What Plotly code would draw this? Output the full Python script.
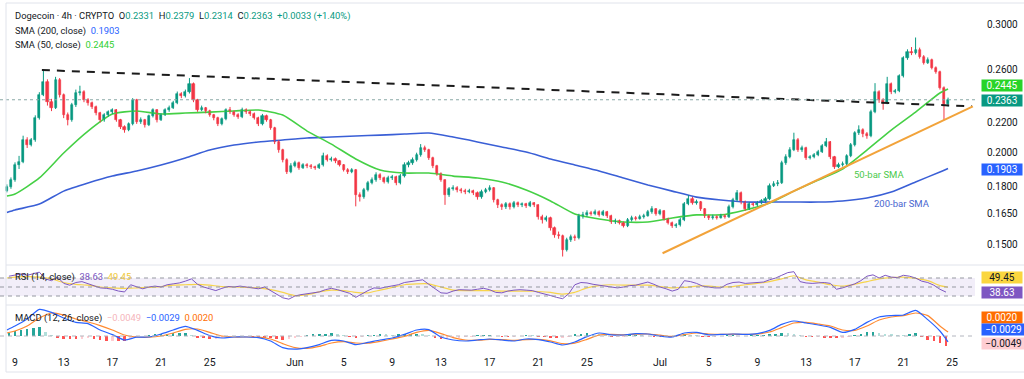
import numpy as np
import pandas as pd
import plotly.graph_objects as go

# ---------------- data ----------------
bar_start = "2025-05-08 08:00"          # 8h candles
first_open = 0.1775
closes = [
    .1795, .1835, .1924, .1942, .2082, .2049, .2082, .2231, .2398, .2499,
    .2346, .2303, .2515, .2398, .2252, .2217, .2324, .2414, .2421, .2361,
    .2339, .2310, .2266, .2217, .2252, .2273, .2288, .2217, .2169, .2148,
    .2189, .2361, .2203, .2217, .2182, .2245, .2288, .2217, .2252, .2288,
    .2303, .2339, .2406, .2391, .2421, .2483, .2361, .2288, .2303, .2281,
    .2252, .2231, .2189, .2224, .2288, .2273, .2252, .2238, .2288, .2273,
    .2259, .2231, .2189, .2245, .2217, .2162, .2069, .2017, .1955, .1882,
    .1918, .1936, .1906, .1924, .1918, .1912, .1906, .1924, .1979, .1955,
    .1961, .1948, .1924, .1894, .1882, .1894, .1750, .1739, .1778, .1818,
    .1835, .1864, .1847, .1824, .1847, .1853, .1818, .1859, .1924, .1936,
    .1955, .1985, .2030, .2017, .1967, .1918, .1870, .1835, .1750, .1784,
    .1790, .1778, .1773, .1767, .1773, .1762, .1739, .1767, .1778, .1790,
    .1723, .1696, .1685, .1701, .1685, .1707, .1696, .1700, .1692, .1707,
    .1696, .1633, .1618, .1628, .1577, .1543, .1538, .1472, .1519, .1533,
    .1528, .1638, .1644, .1654, .1650, .1659, .1644, .1659, .1638, .1608,
    .1612, .1603, .1588, .1618, .1628, .1625, .1633, .1640, .1659, .1675,
    .1649, .1664, .1623, .1603, .1588, .1592, .1618, .1701, .1728, .1707,
    .1712, .1675, .1638, .1628, .1633, .1630, .1638, .1633, .1685, .1723,
    .1762, .1712, .1675, .1701, .1697, .1707, .1718, .1728, .1801, .1812,
    .1818, .1936, .1973, .2017, .2082, .2017, .2030, .1967, .1973, .1985,
    .2004, .2043, .2069, .1973, .1912, .1924, .1930, .1979, .2049, .2128,
    .2148, .2121, .2108, .2273, .2421, .2361, .2339, .2483, .2421, .2429,
    .2546, .2695, .2747, .2738, .2764, .2704, .2653, .2678, .2612, .2579,
    .2452, .2331, .2363,
]
highs = [
    .1810, .1850, .1940, .1980, .2110, .2100, .2095, .2250, .2420, .2600,
    .2520, .2370, .2540, .2530, .2410, .2270, .2340, .2440, .2470, .2435,
    .2375, .2350, .2320, .2275, .2265, .2285, .2300, .2295, .2225, .2180,
    .2200, .2375, .2370, .2235, .2225, .2255, .2300, .2295, .2265, .2300,
    .2320, .2355, .2425, .2420, .2440, .2530, .2495, .2370, .2320, .2310,
    .2290, .2260, .2240, .2235, .2300, .2310, .2285, .2265, .2305, .2300,
    .2285, .2270, .2240, .2260, .2255, .2225, .2170, .2080, .2025, .1965,
    .1935, .1950, .1945, .1935, .1935, .1930, .1920, .1935, .2000, .1990,
    .1975, .1970, .1955, .1930, .1905, .1905, .1900, .1765, .1790, .1830,
    .1850, .1880, .1875, .1855, .1860, .1865, .1860, .1870, .1940, .1950,
    .1970, .2000, .2055, .2045, .2025, .1975, .1925, .1880, .1840, .1795,
    .1805, .1800, .1790, .1785, .1785, .1780, .1770, .1780, .1790, .1805,
    .1795, .1730, .1705, .1712, .1710, .1718, .1715, .1710, .1708, .1718,
    .1712, .1700, .1645, .1640, .1635, .1585, .1560, .1545, .1530, .1545,
    .1545, .1650, .1660, .1668, .1665, .1672, .1668, .1670, .1665, .1645,
    .1625, .1620, .1610, .1628, .1640, .1638, .1645, .1650, .1670, .1690,
    .1680, .1675, .1670, .1630, .1610, .1602, .1630, .1712, .1750, .1740,
    .1725, .1718, .1680, .1645, .1645, .1642, .1650, .1648, .1698, .1735,
    .1778, .1770, .1720, .1712, .1710, .1718, .1728, .1740, .1815, .1828,
    .1835, .1950, .1990, .2035, .2130, .2095, .2045, .2038, .1985, .1998,
    .2018, .2055, .2095, .2075, .1980, .1938, .1945, .1990, .2062, .2140,
    .2180, .2160, .2135, .2290, .2490, .2435, .2375, .2540, .2495, .2445,
    .2560, .2710, .2770, .2790, .2875, .2785, .2720, .2700, .2690, .2625,
    .2590, .2465, .2379,
]
lows = [
    .1765, .1785, .1825, .1900, .1935, .2030, .2040, .2070, .2220, .2390,
    .2320, .2280, .2295, .2380, .2230, .2180, .2205, .2310, .2395, .2345,
    .2320, .2295, .2250, .2200, .2205, .2240, .2260, .2205, .2155, .2130,
    .2140, .2180, .2190, .2190, .2165, .2175, .2235, .2200, .2210, .2245,
    .2275, .2295, .2330, .2375, .2380, .2410, .2345, .2275, .2280, .2265,
    .2240, .2215, .2175, .2180, .2215, .2260, .2240, .2225, .2230, .2260,
    .2245, .2220, .2175, .2180, .2205, .2150, .2055, .2000, .1940, .1870,
    .1875, .1910, .1895, .1900, .1905, .1900, .1895, .1900, .1915, .1945,
    .1945, .1935, .1915, .1885, .1870, .1875, .1689, .1715, .1730, .1770,
    .1810, .1825, .1835, .1815, .1815, .1835, .1805, .1810, .1850, .1910,
    .1925, .1945, .1975, .2005, .1955, .1905, .1860, .1825, .1697, .1740,
    .1775, .1765, .1760, .1755, .1760, .1750, .1725, .1730, .1760, .1770,
    .1710, .1680, .1670, .1675, .1672, .1678, .1685, .1685, .1680, .1685,
    .1685, .1620, .1600, .1610, .1565, .1530, .1525, .1442, .1465, .1510,
    .1515, .1522, .1625, .1635, .1640, .1642, .1635, .1638, .1628, .1598,
    .1598, .1595, .1580, .1582, .1610, .1615, .1620, .1625, .1635, .1650,
    .1640, .1642, .1615, .1595, .1578, .1578, .1585, .1612, .1695, .1698,
    .1698, .1665, .1628, .1618, .1620, .1620, .1625, .1625, .1628, .1678,
    .1715, .1700, .1665, .1670, .1688, .1690, .1700, .1710, .1722, .1795,
    .1800, .1812, .1925, .1965, .2010, .2005, .2005, .1955, .1958, .1965,
    .1978, .1998, .2035, .1960, .1900, .1905, .1915, .1922, .1972, .2040,
    .2115, .2100, .2090, .2100, .2265, .2340, .2290, .2330, .2405, .2410,
    .2420, .2535, .2680, .2720, .2725, .2690, .2640, .2645, .2600, .2565,
    .2440, .2215, .2314,
]

# moving averages, sampled every 2 days (plus first / last bar)
sma_times = (["2025-05-08 08:00"]
             + [str(d) for d in pd.date_range("2025-05-09", periods=39, freq="2D")]
             + ["2025-07-24 16:00"])
sma50 = [.1745,
         .1756, .1847, .1998, .2141, .2259, .2281, .2259, .2266, .2273, .2281,
         .2288, .2252, .2141, .2055, .1961, .1894, .1876, .1876, .1858, .1847,
         .1824, .1778, .1718, .1649, .1623, .1608, .1608, .1628, .1644, .1644,
         .1670, .1707, .1772, .1835, .1900, .2017, .2148, .2273, .2414,
         .2445]
sma200 = [.1657,
          .1670, .1701, .1772, .1818, .1858, .1888, .1924, .1967, .2017, .2049,
          .2069, .2082, .2095, .2101, .2108, .2114, .2121, .2128, .2101, .2069,
          .2036, .2004, .1961, .1924, .1888, .1847, .1807, .1772, .1739, .1723,
          .1712, .1712, .1712, .1712, .1718, .1734, .1767, .1824, .1882,
          .1903]

# hand-drawn trend lines
resist_times = ["2025-05-11 05:00", "2025-07-26 15:00"]
resist_prices = [0.2595, 0.2315]
support_times = ["2025-07-01 05:00", "2025-07-26 17:00"]
support_prices = [0.1457, 0.2315]

# RSI (12h samples) and its MA (daily)
rsi_start = "2025-05-08 12:00"
rsi = [74, 77, 79, 76, 80, 83, 68, 64, 72, 58,
       54, 60, 62, 57, 52, 48, 47, 45, 41, 39,
       55, 50, 46, 50, 52, 50, 55, 57, 59, 63,
       68, 56, 50, 46, 42, 47, 51, 50, 52, 50,
       48, 46, 50, 42, 33, 26, 23, 30, 33, 35,
       37, 39, 44, 47, 44, 40, 36, 27, 35, 42,
       48, 47, 50, 52, 55, 60, 62, 65, 66, 56,
       46, 37, 36, 41, 44, 43, 43, 45, 47, 44,
       38, 37, 41, 43, 44, 43, 42, 38, 35, 31,
       27, 24, 35, 55, 60, 59, 56, 54, 51, 50,
       48, 50, 53, 54, 58, 61, 56, 50, 46, 41,
       45, 64, 62, 58, 52, 50, 48, 48, 56, 60,
       61, 58, 59, 60, 61, 66, 70, 76, 82, 84,
       62, 59, 58, 59, 60, 58, 45, 48, 52, 57,
       64, 74, 77, 70, 76, 72, 71, 76, 74, 70,
       63, 60, 54, 45, 38.63]
daily_times = (["2025-05-08 08:00"]
               + [str(d) for d in pd.date_range("2025-05-09", periods=77, freq="D")]
               + ["2025-07-24 16:00"])
rsi_ma = [70,
          72, 73, 72, 68, 60, 56, 54, 50, 48, 47,
          48, 49, 51, 54, 55, 56, 54, 51, 50, 49,
          48, 44, 38, 31, 33, 39, 43, 42, 38, 37,
          43, 49, 55, 57, 57, 50, 43, 42, 42, 42,
          41, 41, 41, 40, 38, 34, 38, 48, 53, 55,
          54, 54, 54, 51, 48, 49, 52, 52, 50, 51,
          55, 58, 62, 68, 75, 66, 61, 55, 52, 56,
          62, 68, 71, 72, 69, 64, 53,
          49.45]

# MACD (daily) and histogram (12h)
macd = [.0030,
        .0050, .0085, .0133, .0118, .0090, .0068, .0062, .0030, .0007, -.0020,
        -.0006, -.0005, .0010, .0030, .0048, .0028, .0002, -.0010, -.0005, -.0005,
        -.0008, -.0025, -.0058, -.0066, -.0058, -.0043, -.0022, -.0025, -.0043, -.0032,
        -.0020, -.0010, .0008, .0030, .0032, -.0005, -.0020, -.0025, -.0020, -.0015,
        -.0020, -.0025, -.0015, -.0018, -.0030, -.0045, -.0030, -.0003, .0015, .0006,
        .0005, .0012, .0010, .0000, -.0005, .0015, .0018, .0006, .0008, .0010,
        .0008, .0012, .0028, .0058, .0075, .0065, .0055, .0043, .0018, .0033,
        .0068, .0095, .0102, .0105, .0128, .0082, .0025,
        -.0029]
signal = [.0015,
          .0025, .0050, .0090, .0115, .0105, .0085, .0070, .0052, .0030, .0005,
          -.0005, -.0006, .0000, .0015, .0033, .0035, .0018, .0000, -.0005, -.0005,
          -.0006, -.0015, -.0038, -.0058, -.0062, -.0052, -.0035, -.0028, -.0035, -.0036,
          -.0027, -.0015, -.0002, .0018, .0028, .0012, -.0008, -.0020, -.0021, -.0017,
          -.0018, -.0022, -.0018, -.0017, -.0024, -.0038, -.0036, -.0017, .0005, .0008,
          .0006, .0009, .0010, .0004, -.0002, .0007, .0015, .0010, .0008, .0009,
          .0008, .0010, .0020, .0042, .0065, .0068, .0060, .0050, .0030, .0028,
          .0050, .0080, .0095, .0102, .0115, .0102, .0050,
          .0020]
hist = [.0017, .0025, .0030, .0035, .0040, .0043, .0020, .0003, -.0006, -.0015,
        -.0016, -.0017, -.0013, -.0008, -.0015, -.0022, -.0023, -.0023, -.0024, -.0025,
        -.0013, -.0001, .0000, .0001, .0006, .0010, .0012, .0015, .0015, .0015,
        .0004, -.0007, -.0012, -.0016, -.0013, -.0010, -.0005, .0000, .0000, .0000,
        -.0001, -.0002, -.0006, -.0010, -.0015, -.0020, -.0014, -.0008, -.0002, .0004,
        .0007, .0009, .0011, .0013, .0008, .0003, -.0003, -.0008, -.0001, .0004,
        .0005, .0007, .0006, .0005, .0007, .0010, .0011, .0012, .0008, .0004,
        -.0007, -.0017, -.0015, -.0012, -.0009, -.0005, -.0001, .0001, .0002, .0002,
        .0000, -.0002, -.0003, -.0003, .0000, .0003, .0001, -.0001, -.0004, -.0006,
        -.0007, -.0007, -.0001, .0006, .0010, .0014, .0012, .0010, .0003, -.0002,
        -.0001, -.0001, .0003, .0003, .0002, .0000, -.0002, -.0004, -.0003, -.0003,
        .0002, .0008, .0005, .0003, -.0001, -.0004, -.0002, .0000, .0001, .0001,
        .0000, .0000, .0001, .0002, .0005, .0008, .0012, .0016, .0015, .0010,
        .0003, -.0003, -.0005, -.0005, -.0006, -.0007, -.0012, -.0012, -.0003, .0005,
        .0011, .0018, .0018, .0015, .0010, .0007, .0004, .0003, .0008, .0013,
        -.0004, -.0018, -.0026, -.0036, -.0049]

# axis labels
price_ticks = [0.15, 0.165, 0.18, 0.20, 0.22, 0.26, 0.30]
price_tick_text = ["0.1500", "0.1650", "0.1800", "0.2000", "0.2200", "0.2600", "0.3000"]
date_ticks = ["2025-05-09", "2025-05-13", "2025-05-17", "2025-05-21", "2025-05-25",
              "2025-06-01", "2025-06-05", "2025-06-09", "2025-06-13", "2025-06-17",
              "2025-06-21", "2025-06-25", "2025-07-01", "2025-07-05", "2025-07-09",
              "2025-07-13", "2025-07-17", "2025-07-21", "2025-07-25"]
date_tick_text = ["9", "13", "17", "21", "25", "Jun", "5", "9", "13", "17",
                  "21", "25", "Jul", "5", "9", "13", "17", "21", "25"]
header_title = "Dogecoin · 4h · CRYPTO"
header_change = "+0.0033 (+1.40%)"

# ---------------- styling ----------------
W, H = 1024, 379
FONT = "Roboto, Lato, sans-serif"
TXT = "#131722"
UP, DN = "#089981", "#f23645"
C50, C200 = "#45d045", "#3a5fd6"
RSI_C, RSI_MA_C = "#7e57c2", "#f7d44c"
MACD_C, SIG_C = "#2962ff", "#ff8a30"
PLOT_R = 975
HF = 9.4   # legend / header font size


def py(p):
    return 1 - p / H


def px(p):
    return p / W


def fmt(v):
    s = f"{abs(v):.4f}"
    return ("−" + s) if v < 0 else s


bar_times = pd.date_range(bar_start, periods=len(closes), freq="8h")
opens = [first_open] + closes[:-1]
rsi_times = pd.date_range(rsi_start, periods=len(rsi), freq="12h")

hist_colors = []
prev = 0.0
for v in hist:
    if v >= 0:
        hist_colors.append("#26a69a" if v >= prev else "#b2dfdb")
    else:
        hist_colors.append("#ff5252" if v < prev else "#ffcdd2")
    prev = v

fig = go.Figure()

# price pane: moving averages
fig.add_trace(go.Scatter(x=sma_times, y=sma200, mode="lines", line=dict(color=C200, width=1.6, shape="spline", smoothing=0.6),
                         xaxis="x", yaxis="y", hoverinfo="skip"))
fig.add_trace(go.Scatter(x=sma_times, y=sma50, mode="lines", line=dict(color=C50, width=1.6, shape="spline", smoothing=0.6),
                         xaxis="x", yaxis="y", hoverinfo="skip"))

# candles: wicks + bodies, one set per direction
for is_up, col in ((True, UP), (False, DN)):
    idx = [i for i in range(len(closes)) if (closes[i] >= opens[i]) == is_up]
    wx, wy = [], []
    for i in idx:
        wx += [bar_times[i], bar_times[i], None]
        wy += [lows[i], highs[i], None]
    fig.add_trace(go.Scatter(x=wx, y=wy, mode="lines", line=dict(color=col, width=1),
                             xaxis="x", yaxis="y", hoverinfo="skip"))
    fig.add_trace(go.Bar(x=[bar_times[i] for i in idx],
                         base=[min(opens[i], closes[i]) for i in idx],
                         y=[abs(closes[i] - opens[i]) for i in idx],
                         width=4.2 * 3600 * 1000,
                         marker=dict(color=col, line=dict(color=col, width=0.6)),
                         xaxis="x", yaxis="y", hoverinfo="skip"))

fig.add_trace(go.Scatter(x=resist_times, y=resist_prices, mode="lines",
                         line=dict(color="#1b1b1b", width=2, dash="8px,7px"), xaxis="x", yaxis="y", hoverinfo="skip"))
fig.add_trace(go.Scatter(x=support_times, y=support_prices, mode="lines",
                         line=dict(color="#f2a33a", width=2), xaxis="x", yaxis="y", hoverinfo="skip"))

# RSI pane
fig.add_trace(go.Scatter(x=daily_times, y=rsi_ma, mode="lines", line=dict(color=RSI_MA_C, width=1.2, shape="spline", smoothing=0.5),
                         xaxis="x2", yaxis="y2", hoverinfo="skip"))
fig.add_trace(go.Scatter(x=rsi_times, y=rsi, mode="lines", line=dict(color=RSI_C, width=1),
                         xaxis="x2", yaxis="y2", hoverinfo="skip"))

# MACD pane
fig.add_trace(go.Bar(x=rsi_times, y=hist, marker=dict(color=hist_colors, line=dict(width=0)),
                     width=5 * 3600 * 1000, xaxis="x3", yaxis="y3", hoverinfo="skip"))
fig.add_trace(go.Scatter(x=daily_times, y=signal, mode="lines", line=dict(color=SIG_C, width=1.2, shape="spline", smoothing=0.6),
                         xaxis="x3", yaxis="y3", hoverinfo="skip"))
fig.add_trace(go.Scatter(x=daily_times, y=macd, mode="lines", line=dict(color=MACD_C, width=1.2, shape="spline", smoothing=0.6),
                         xaxis="x3", yaxis="y3", hoverinfo="skip"))

XR = ["2025-05-07 18:25", "2025-07-26 21:10"]
xdom = [0, px(PLOT_R)]
common_x = dict(domain=xdom, showgrid=False, zeroline=False, showline=False, fixedrange=True)

shapes = []
shapes.append(dict(type="rect", xref="x2 domain", x0=0, x1=1, yref="y2", y0=30, y1=70,
                   fillcolor="rgba(126,87,194,0.10)", line=dict(width=0), layer="below"))
for lv in (70, 50, 30):
    shapes.append(dict(type="line", xref="x2 domain", x0=0, x1=1, yref="y2", y0=lv, y1=lv,
                       line=dict(color="#9598a1", width=1, dash="4px,4px")))
shapes.append(dict(type="line", xref="x3 domain", x0=0, x1=1, yref="y3", y0=0, y1=0,
                   line=dict(color="#b2b5be", width=1, dash="4px,4px")))
shapes.append(dict(type="line", xref="x domain", x0=0, x1=1, yref="y", y0=closes[-1], y1=closes[-1],
                   line=dict(color="#8aa9a6", width=1, dash="dot")))
for yy in (3, 265, 305, 372):
    shapes.append(dict(type="line", xref="paper", x0=px(6), x1=1, yref="paper", y0=py(yy), y1=py(yy),
                       line=dict(color="#e0e3eb", width=1)))
shapes.append(dict(type="line", xref="paper", x0=px(6), x1=px(6), yref="paper", y0=py(372), y1=py(3),
                   line=dict(color="#e0e3eb", width=1)))

fig.update_layout(
    width=W, height=H, margin=dict(l=0, r=0, t=0, b=0, pad=0),
    paper_bgcolor="white", plot_bgcolor="white", showlegend=False, hovermode=False,
    barmode="overlay", bargap=0,
    xaxis=dict(**common_x, range=XR, anchor="y", showticklabels=False, rangeslider=dict(visible=False), type="date"),
    xaxis2=dict(**common_x, matches="x", anchor="y2", showticklabels=False, type="date"),
    xaxis3=dict(**common_x, matches="x", anchor="y3", type="date", tickmode="array",
                tickvals=date_ticks, ticktext=date_tick_text, ticks="", ticklabelstandoff=2,
                tickfont=dict(family=FONT, size=10.5, color=TXT)),
    yaxis=dict(domain=[py(265), 1], type="log", range=[np.log10(0.140403), np.log10(0.32357)],
               side="right", anchor="x", showgrid=False, zeroline=False, tickmode="array",
               tickvals=price_ticks, ticktext=price_tick_text, ticks="", ticklabelstandoff=11,
               tickfont=dict(family=FONT, size=10, color=TXT), fixedrange=True),
    yaxis2=dict(domain=[py(305), py(265)], range=[10, 98.9], anchor="x2", showgrid=False,
                zeroline=False, showticklabels=False, fixedrange=True),
    yaxis3=dict(domain=[py(352), py(305)], range=[-0.008, 0.0155], anchor="x3", showgrid=False,
                zeroline=False, showticklabels=False, fixedrange=True),
    shapes=shapes,
)

# ---------------- text ----------------
SP = "&nbsp;&nbsp;"
t1 = (f"{header_title}{SP}O<span style=\"color:{UP}\">{opens[-1]:.4f}</span>"
      f"{SP}H<span style=\"color:{UP}\">{highs[-1]:.4f}</span>"
      f"{SP}L<span style=\"color:{UP}\">{lows[-1]:.4f}</span>"
      f"{SP}C<span style=\"color:{UP}\">{closes[-1]:.4f}</span>"
      f"{SP}<span style=\"color:{UP}\">{header_change}</span>")
left_texts = [
    (t1, 16),
    (f"SMA (200, close){SP}<span style=\"color:{MACD_C}\">{sma200[-1]:.4f}</span>", 31),
    (f"SMA (50, close){SP}<span style=\"color:#2fcf2f\">{sma50[-1]:.4f}</span>", 45),
    (f"RSI (14, close){SP}<span style=\"color:{RSI_C}\">{rsi[-1]:.2f}</span>{SP}"
     f"<span style=\"color:#f0c93a\">{rsi_ma[-1]:.2f}</span>", 277),
    (f"MACD (12, 26, close){SP}<span style=\"color:#f5b5bb\">{fmt(hist[-1])}</span>"
     f"{SP}<span style=\"color:{MACD_C}\">{fmt(macd[-1])}</span>"
     f"{SP}<span style=\"color:#ff6d00\">{fmt(signal[-1])}</span>", 318),
]
for txt, yy in left_texts:
    fig.add_annotation(text=txt, xref="paper", yref="paper", x=px(13), y=py(yy), xanchor="left",
                       yanchor="middle", showarrow=False, font=dict(family=FONT, size=HF, color=TXT))

fig.add_annotation(text="50-bar SMA", xref="paper", yref="paper", x=px(852), y=py(175), xanchor="left",
                   yanchor="middle", showarrow=False, font=dict(family=FONT, size=9.5, color="#4cc94c"))
fig.add_annotation(text="200-bar SMA", xref="paper", yref="paper", x=px(872), y=py(203), xanchor="left",
                   yanchor="middle", showarrow=False, font=dict(family=FONT, size=9.5, color="#4a66cf"))

badges = [
    ("y", np.log10(sma50[-1]), f"{sma50[-1]:.4f}", "#28d428", "white", 3, 40),
    ("y", np.log10(closes[-1]), f"{closes[-1]:.4f}", UP, "white", -1, 40),
    ("y", np.log10(sma200[-1]), f"{sma200[-1]:.4f}", "#2962ff", "white", -1, 40),
    ("y2", rsi_ma[-1], f"{rsi_ma[-1]:.2f}", "#fad63f", TXT, 10, 40),
    ("y2", rsi[-1], f"{rsi[-1]:.2f}", RSI_C, "white", 0, 40),
    ("y3", signal[-1], fmt(signal[-1]), "#ff6d00", "white", 15, 40),
    ("y3", macd[-1], fmt(macd[-1]), "#2962ff", "white", 12, 43),
    ("y3", hist[-1], fmt(hist[-1]), "#ffcdd2", TXT, 2, 43),
]
for yref, yv, txt, bg, fg, ys, wd in badges:
    fig.add_annotation(text=txt, xref="paper", x=px(981), xanchor="left", yref=yref, y=yv, yanchor="middle",
                       yshift=ys, showarrow=False, bgcolor=bg, borderpad=0, width=wd, height=11, align="center",
                       font=dict(family=FONT, size=10, color=fg))

fig.write_html("out.html", config={"displayModeBar": False},
               post_script="document.body.style.margin='0px';document.body.style.padding='0px';")
